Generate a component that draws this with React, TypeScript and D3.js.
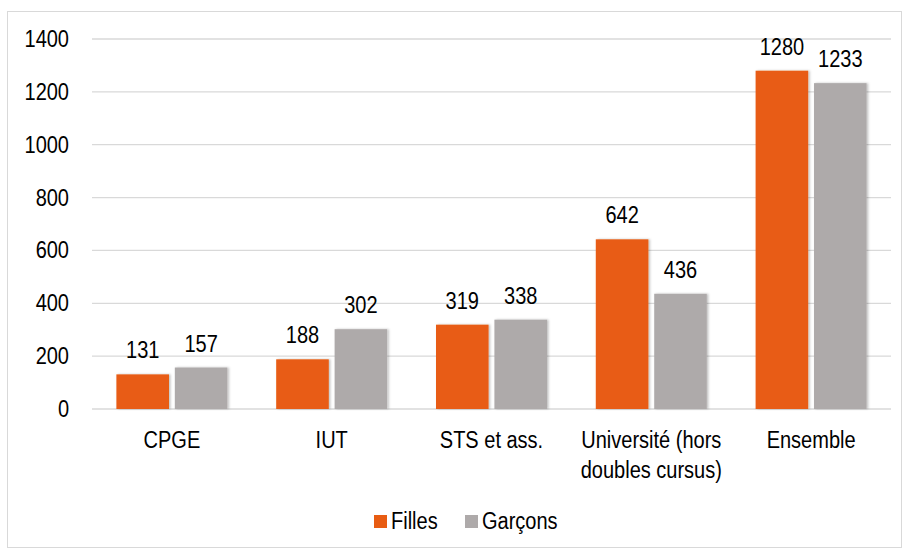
import React from "react";
import * as d3 from "d3";

const categories = ["CPGE", "IUT", "STS et ass.", "Université (hors|doubles cursus)", "Ensemble"];
const filles = [131, 188, 319, 642, 1280];
const garcons = [157, 302, 338, 436, 1233];
const seriesNames = ["Filles", "Garçons"];
const yTicks = [0, 200, 400, 600, 800, 1000, 1200, 1400];

const W = 909;
const H = 552;
const margin = { left: 92, right: 18, top: 39, bottom: 142 };
const colors = ["#E85C12", "#AEAAAA"];
const font = "'Liberation Sans', Arial, sans-serif";
const fs = 23;
const squeeze = 0.87; // the original font is a narrow Arial

// text drawn slightly condensed around its anchor point
function Txt(props: { x: number; y: number; anchor?: string; dy?: string; children: React.ReactNode }) {
  return (
    <text
      transform={`translate(${props.x},${props.y}) scale(${squeeze},1)`}
      dy={props.dy}
      textAnchor={props.anchor || "start"}
      fontSize={fs}
      fill="#000"
    >
      {props.children}
    </text>
  );
}

export default function App() {
  const x = d3
    .scaleBand<number>()
    .domain(d3.range(categories.length))
    .range([margin.left, W - margin.right]);
  const y = d3.scaleLinear().domain([0, 1400]).range([H - margin.bottom - 1, margin.top]);
  const inner = d3.scaleBand<number>().domain([0, 1]).range([0, 111]).paddingInner(0.1);
  const series = [filles, garcons];

  return (
    <svg width={W} height={H} style={{ position: "absolute", left: 0, top: 0, fontFamily: font }}>
      <defs>
        <filter id="sh" x="-20%" y="-10%" width="140%" height="120%">
          <feDropShadow dx="1.5" dy="0" stdDeviation="1.2" floodColor="#000" floodOpacity="0.25" />
        </filter>
      </defs>
      <rect x={0} y={0} width={W} height={H} fill="#fff" />
      <rect x={7.5} y={11.5} width={894} height={536} fill="none" stroke="#d9d9d9" strokeWidth={1} />
      {yTicks.map((t) => (
        <g key={t}>
          <line x1={margin.left} x2={W - margin.right} y1={y(t)} y2={y(t)} stroke="#d9d9d9" strokeWidth={1.3} />
          <Txt x={69} y={y(t)} dy="0.35em" anchor="end">
            {t}
          </Txt>
        </g>
      ))}
      {categories.map((c, i) => {
        const cx = (x(i) as number) + x.bandwidth() / 2;
        const gx = cx - 55.5;
        return (
          <g key={c}>
            {series.map((s, j) => {
              const bx = gx + (inner(j) as number);
              return (
                <g key={j}>
                  <rect
                    x={bx}
                    y={y(s[i])}
                    width={inner.bandwidth()}
                    height={y(0) - y(s[i])}
                    fill={colors[j]}
                    filter="url(#sh)"
                  />
                  <Txt x={bx + inner.bandwidth() / 2} y={y(s[i]) - 16} anchor="middle">
                    {s[i]}
                  </Txt>
                </g>
              );
            })}
            {c.split("|").map((line, k) => (
              <Txt key={k} x={cx} y={448 + k * 30} anchor="middle">
                {line}
              </Txt>
            ))}
          </g>
        );
      })}
      {seriesNames.map((n, j) => {
        const lx = j === 0 ? 374 : 465;
        return (
          <g key={n}>
            <rect x={lx} y={515} width={13} height={13} fill={colors[j]} />
            <Txt x={lx + 17} y={529}>
              {n}
            </Txt>
          </g>
        );
      })}
    </svg>
  );
}
